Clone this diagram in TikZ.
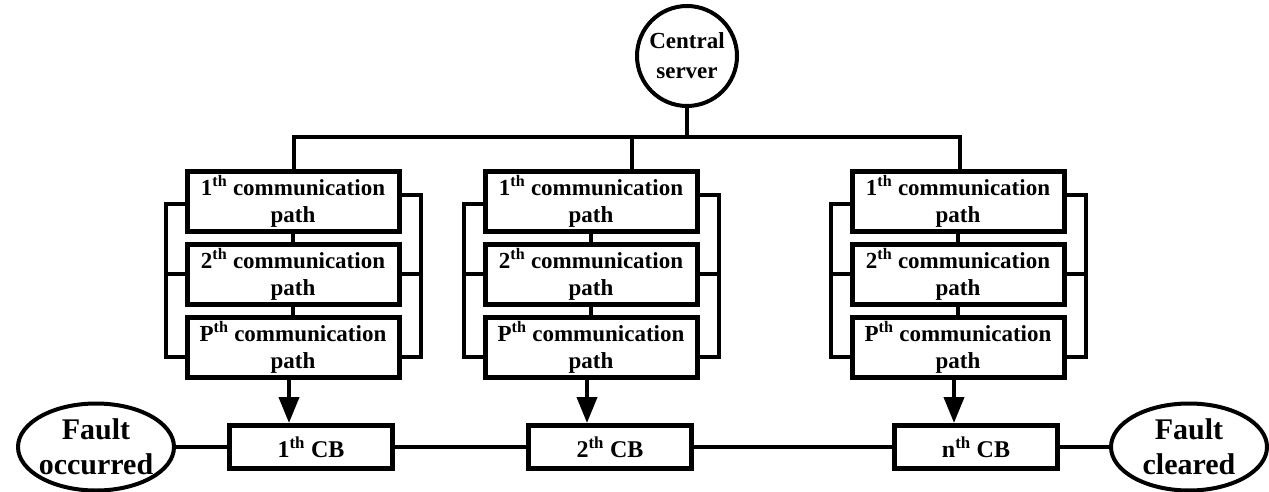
\documentclass[tikz,border=0pt]{standalone}
\usepackage{fontspec}
\setmainfont{Liberation Serif}
\usetikzlibrary{arrows.meta,shapes.geometric}
\begin{document}
\begin{tikzpicture}[x=1pt,y=-1pt,line width=4pt,
  pathbox/.style={draw,line width=5pt,rectangle,minimum width=212pt,minimum height=60pt,inner sep=0pt,align=center,
    font=\bfseries\fontsize{23}{27}\selectfont},
  cbbox/.style={draw,line width=5pt,rectangle,minimum width=163pt,minimum height=43pt,inner sep=0pt,
    font=\bfseries\fontsize{24}{28}\selectfont},
  endell/.style={draw,ellipse,minimum width=156pt,minimum height=87pt,inner sep=0pt},
  endtxt/.style={align=center,inner sep=0pt,font=\bfseries\fontsize{30}{35}\selectfont},
  serverc/.style={draw,circle,minimum size=100pt,inner sep=0pt,align=center,
    font=\bfseries\fontsize{23}{30}\selectfont},
  arr/.style={-{Triangle[length=26pt,width=20pt]}}]
\useasboundingbox (0,0) rectangle (1269,492);

% central server
\node[serverc] (cs) at (687,56) {Central\\server};

% communication path columns
\foreach \c/\x in {1/293,2/591,3/958}{
  \node[pathbox] (c\c a) at (\x,201) {1\textsuperscript{th} communication\\path};
  \node[pathbox] (c\c b) at (\x,274) {2\textsuperscript{th} communication\\path};
  \node[pathbox] (c\c c) at (\x,347) {P\textsuperscript{th} communication\\path};
  \draw (c\c a.south) -- (c\c b.north);
  \draw (c\c b.south) -- (c\c c.north);
  % left bracket
  \draw ([yshift=-3pt]c\c a.west) -- ++(-19,0) -- ([xshift=-19pt,yshift=-10pt]c\c c.west) -- ([yshift=-10pt]c\c c.west);
  \draw (c\c b.west) -- ++(-19,0);
  % right bracket
  \draw ([yshift=6pt]c\c a.east) -- ++(19,0) -- ([xshift=19pt,yshift=-10pt]c\c c.east) -- ([yshift=-10pt]c\c c.east);
  \draw (c\c b.east) -- ++(19,0);
}

% bus from server
\coordinate (busL) at (294,137);
\coordinate (busR) at (960,137);
\coordinate (drop2) at (632,137);
\draw (cs.south) -- (cs.south |- busL);
\draw (c1a.north -| busL) -- (busL) -- (busR) -- (c3a.north -| busR);
\draw (drop2) -- (drop2 |- c2a.north);

% circuit breakers
\node[cbbox] (cb1) at (311,447) {1\textsuperscript{th} CB};
\node[cbbox] (cb2) at (610,447) {2\textsuperscript{th} CB};
\node[cbbox] (cbn) at (976,447) {n\textsuperscript{th} CB};

\foreach \c/\b in {1/cb1,2/cb2,3/cbn}{
  \draw[arr] ([xshift=-4pt]c\c c.south) -- ([xshift=-4pt]c\c c.south |- \b.north);
}

% fault ellipses
\node[endell] (fo) at (96,447) {};
\node[endtxt] (fot) at (fo.center) {Fault\\occurred};
\node[endell] (fc) at (1189,447) {};
\node[endtxt] (fct) at (fc.center) {Fault\\cleared};

\draw (fo.east) -- (cb1.west);
\draw (cb1.east) -- (cb2.west);
\draw (cb2.east) -- (cbn.west);
\draw (cbn.east) -- (fc.west);
\end{tikzpicture}
\end{document}
